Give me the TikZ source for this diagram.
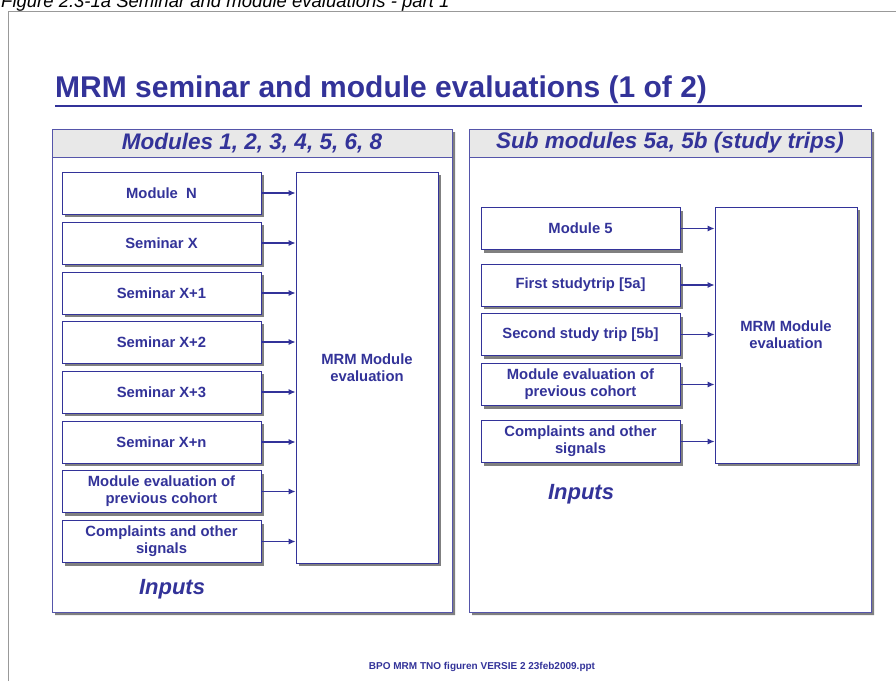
\documentclass[tikz,border=0pt]{standalone}
\usepackage{fontspec}
\setmainfont{Liberation Sans}
\usetikzlibrary{arrows.meta,shadows,positioning}
\definecolor{mrmblue}{HTML}{333399}
\definecolor{panelline}{HTML}{5555AA}
\definecolor{headgray}{HTML}{E8E8E8}
\tikzset{
  inbox/.style={draw=mrmblue, fill=white, line width=.9pt, minimum width=199pt,
    minimum height=42pt, inner sep=0pt, align=center, text=mrmblue,
    font=\bfseries\fontsize{14.8}{17}\selectfont,
    drop shadow={shadow xshift=3pt, shadow yshift=-3pt, fill=black!50, opacity=1}},
  evalbox/.style={inbox, minimum width=142pt},
  feed/.style={draw=mrmblue, line width=1.1pt, -{Latex[length=7pt,width=6pt]}},
  heading/.style={text=mrmblue, font=\bfseries\itshape\fontsize{22.5}{26}\selectfont},
  inputs/.style={text=mrmblue, font=\bfseries\itshape\fontsize{22}{26}\selectfont},
}
\begin{document}
\begin{tikzpicture}[x=1pt,y=-1pt]
\useasboundingbox (0,0) rectangle (896,681);
\clip (0,0) rectangle (896,681);
% page frame and caption
\draw[black!40, line width=1pt] (8,681) -- (8,11) -- (896,11);
\node[anchor=base west, inner sep=0pt, font=\itshape\fontsize{18.5}{22}\selectfont] (caption)
  at (1,7) {Figure 2.3-1a Seminar and module evaluations - part 1};
\node[anchor=base west, inner sep=0pt, text=mrmblue, font=\bfseries\fontsize{30}{34}\selectfont] (title)
  at (55,97) {MRM seminar and module evaluations (1 of 2)};
\draw[mrmblue, line width=2pt] (55,106) -- (862,106);
% panels
\fill[black!50] (55,132) rectangle (455,615) (472,132) rectangle (874,615);
\draw[panelline, fill=white, line width=1pt] (52,129) rectangle (452,612);
\draw[panelline, fill=white, line width=1pt] (469,129) rectangle (871,612);
\draw[panelline, fill=headgray, line width=1pt] (52,129) rectangle (452,157);
\draw[panelline, fill=headgray, line width=1pt] (469,129) rectangle (871,157);
\node[heading] (lefthead) at (252,143) {Modules 1, 2, 3, 4, 5, 6, 8};
\node[heading] (righthead) at (670,143) {Sub modules 5a, 5b (study trips)};
% left panel
\node[evalbox, minimum height=391pt] (leval) at (367,367.5) {MRM Module\\evaluation};
\node[inbox] (l1) at (161.5,193) {Module\ \ N};
\node[inbox] (l2) at (161.5,243) {Seminar X};
\node[inbox] (l3) at (161.5,293) {Seminar X+1};
\node[inbox] (l4) at (161.5,342) {Seminar X+2};
\node[inbox] (l5) at (161.5,392) {Seminar X+3};
\node[inbox] (l6) at (161.5,442) {Seminar X+n};
\node[inbox] (l7) at (161.5,491.5) {Module evaluation of\\previous cohort};
\node[inbox] (l8) at (161.5,541.5) {Complaints and other\\signals};
\draw[feed] (l1.east) -- (leval.west |- l1.east);
\draw[feed] (l2.east) -- (leval.west |- l2.east);
\draw[feed] (l3.east) -- (leval.west |- l3.east);
\draw[feed] (l4.east) -- (leval.west |- l4.east);
\draw[feed] (l5.east) -- (leval.west |- l5.east);
\draw[feed] (l6.east) -- (leval.west |- l6.east);
\draw[feed] (l7.east) -- (leval.west |- l7.east);
\draw[feed] (l8.east) -- (leval.west |- l8.east);
\node[inputs] (linputs) at (172,589) {Inputs};
% right panel
\node[evalbox, minimum height=256pt] (reval) at (786,335) {MRM Module\\evaluation};
\node[inbox] (r1) at (580.5,228.5) {Module 5};
\node[inbox] (r2) at (580.5,285) {First studytrip [5a]};
\node[inbox] (r3) at (580.5,334.5) {Second study trip [5b]};
\node[inbox] (r4) at (580.5,384.5) {Module evaluation of\\previous cohort};
\node[inbox] (r5) at (580.5,441.5) {Complaints and other\\signals};
\draw[feed] (r1.east) -- (reval.west |- r1.east);
\draw[feed] (r2.east) -- (reval.west |- r2.east);
\draw[feed] (r3.east) -- (reval.west |- r3.east);
\draw[feed] (r4.east) -- (reval.west |- r4.east);
\draw[feed] (r5.east) -- (reval.west |- r5.east);
\node[inputs] (rinputs) at (581,494) {Inputs};
% footer
\node[anchor=base, inner sep=0pt, text=mrmblue, font=\bfseries\fontsize{10}{12}\selectfont] (footer)
  at (482,669) {BPO MRM TNO figuren VERSIE 2 23feb2009.ppt};
\end{tikzpicture}
\end{document}
